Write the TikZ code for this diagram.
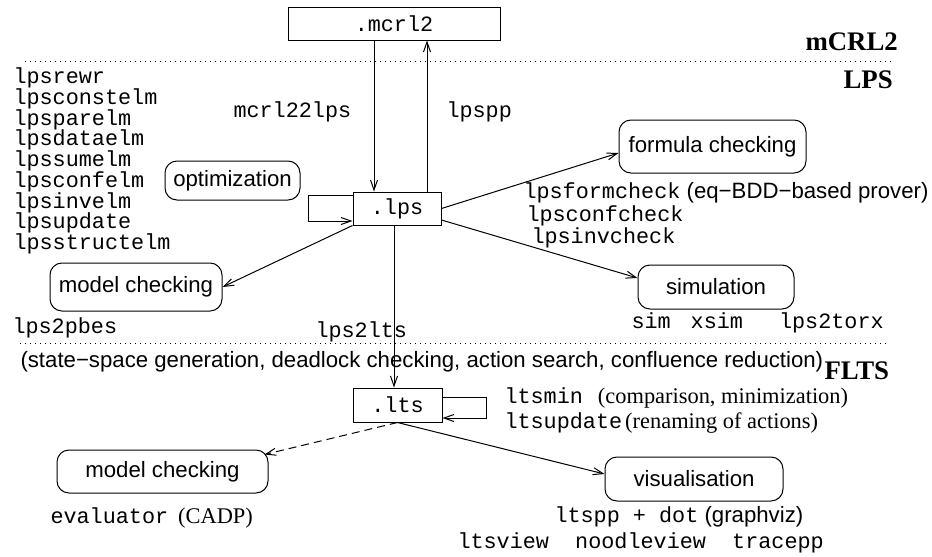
\documentclass[tikz,border=0pt]{standalone}
\usepackage{fontspec}
\setmainfont{Liberation Serif}
\setsansfont{Liberation Sans}
\setmonofont{Liberation Mono}
\usetikzlibrary{arrows.meta,positioning,calc}
\newcommand{\figfont}{\fontsize{10.9}{10.375}\selectfont}
\newcommand{\taskfont}{\fontsize{11.1}{13}\selectfont\sffamily}
\newcommand{\notefont}{\fontsize{11.2}{13}\selectfont\rmfamily}

\begin{document}
\begin{tikzpicture}[x=0.5pt,y=-0.5pt,line width=0.5pt,
  >={Straight Barb[length=5pt,width=3.5pt]},
  file/.style={draw,rectangle,inner sep=0pt,font=\figfont\ttfamily},
  task/.style={draw,rounded corners=6pt,inner sep=0pt,font=\taskfont},
  tool/.style={anchor=west,inner sep=0pt,font=\figfont\ttfamily},
  layer/.style={anchor=base west,inner sep=0pt,font=\fontsize{13.4}{16}\selectfont\bfseries},
  sep/.style={dotted,line width=0.5pt}]
	\useasboundingbox (0,0) rectangle (932,557);
	% files
	\node[file,minimum width=106pt,minimum height=16.5pt] (mcrl2) at (394,23.5) {.mcrl2};
	\node[file,minimum width=44pt,minimum height=16.5pt] (lps) at (397,208.5) {.lps};
	\node[file,minimum width=44.5pt,minimum height=17pt] (lts) at (397.5,405) {.lts};
	% tasks
	\node[task,minimum width=67.5pt,minimum height=19.5pt] (opt) at (232.5,180.5) {optimization};
	\node[task,minimum width=86pt,minimum height=24pt] (mclps) at (136,287) {model checking};
	\node[task,minimum width=93.5pt,minimum height=26.5pt] (form) at (712.5,146.5) {formula checking};
	\node[task,minimum width=78pt,minimum height=22pt] (sim) at (716,287) {simulation};
	\node[task,minimum width=105.5pt,minimum height=21.5pt] (mclts) at (162.5,471.5) {model checking};
	\node[task,minimum width=89pt,minimum height=22pt] (vis) at (694,479) {visualisation};
	% layers
	\draw[sep] (25,61) -- (893,61);
	\draw[sep] (20,343) -- (886,343);
	\node[layer] (lmcrl2) at (805,50) {mCRL2};
	\node[layer] (llps) at (843,88) {LPS};
	\node[layer] (lflts) at (824,379) {FLTS};
	% tools
	\node[tool,align=left] (optt) at (13,161) {lpsrewr\\lpsconstelm\\lpsparelm\\lpsdataelm\\lpssumelm\\lpsconfelm\\lpsinvelm\\lpsupdate\\lpsstructelm};
	\node[tool] (m2l) at (233,112) {mcrl22lps};
	\node[tool] (pp) at (446,112) {lpspp};
	\node[tool] (pbes) at (12,328) {lps2pbes};
	\node[tool] (fc) at (523,193) {lpsformcheck{\taskfont\ (eq−BDD−based prover)}};
	\node[tool] (cc) at (526,216) {lpsconfcheck};
	\node[tool] (ic) at (531,238) {lpsinvcheck};
	\node[tool] (simt) at (631,323) {sim\hspace{10pt}xsim\hspace{18pt}lps2torx};
	\node[tool] (l2l) at (315,332) {lps2lts};
	\node[anchor=west,inner sep=0pt,font=\taskfont] (gen) at (20,362) {(state−space generation, deadlock checking, action search, confluence reduction)};
	\node[tool] (min) at (504,398) {ltsmin{\notefont\hspace{7.5pt}(comparison, minimization)}};
	\node[tool] (upd) at (504,423) {ltsupdate{\notefont\hspace{1.5pt}(renaming of actions)}};
	\node[tool] (eval) at (50,518) {evaluator{\notefont\hspace{5pt}(CADP)}};
	\node[tool] (dot) at (554,517) {ltspp + dot{\taskfont\ (graphviz)}};
	\node[tool] (view) at (457,543) {ltsview\ \ noodleview\ \ tracepp};
	% transformations
	\path[->]
	(mcrl2.south -| 374,0) edge (lps.north -| 374,0)
	(lps.north -| 427,0) edge (mcrl2.south -| 427,0)
	(lps.south west) edge (mclps.east)
	(lps.east) edge (form.west |- 0,153)
	(lps.east |- 0,220) edge (sim.west |- 0,278)
	(lps.south -| 394,0) edge (lts.north -| 394,0)
	(lts.south) edge (vis.west |- 0,474)
	(lts.south) edge[dash pattern=on 4pt off 2.5pt] ($(mclts.north east)+(-4,5)$);
	\draw[->] (lps.west |- 0,195) -| (308,221) -- (lps.west |- 0,221);
	\draw[->] (lts.east |- 0,397) -| (486,418) -- (lts.east |- 0,418);
\end{tikzpicture}
\end{document}
